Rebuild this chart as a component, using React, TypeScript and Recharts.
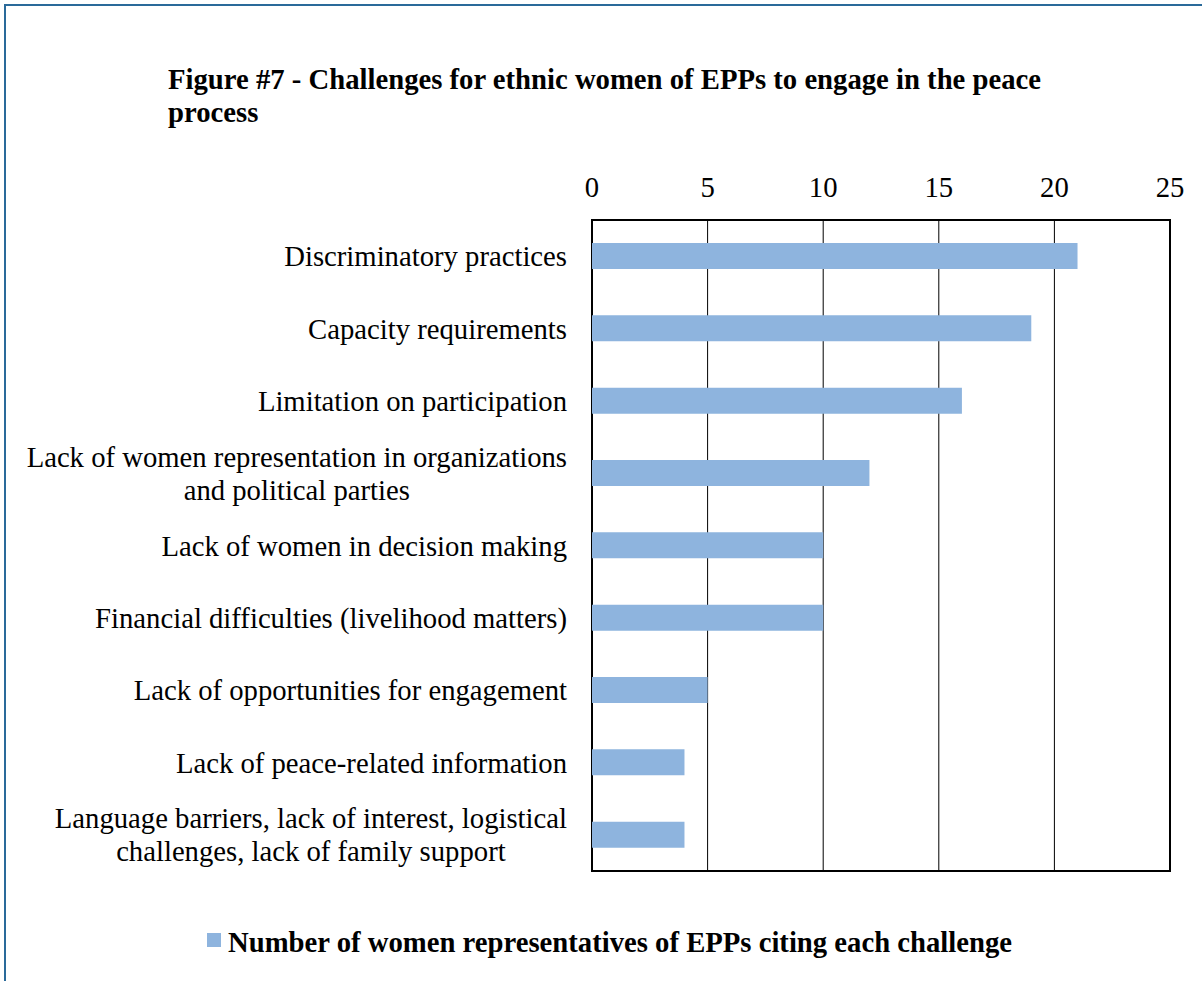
import React from 'react';
import { BarChart, Bar, XAxis, YAxis, CartesianGrid, ReferenceArea } from 'recharts';

const challenges = [
  'Discriminatory practices',
  'Capacity requirements',
  'Limitation on participation',
  'Lack of women representation in organizations\nand political parties',
  'Lack of women in decision making',
  'Financial difficulties (livelihood matters)',
  'Lack of opportunities for engagement',
  'Lack of peace-related information',
  'Language barriers, lack of interest, logistical\nchallenges, lack of family support',
];
const counts = [21, 19, 16, 12, 10, 10, 5, 4, 4];
const xTicks = [0, 5, 10, 15, 20, 25];

const titleLines = [
  'Figure #7 - Challenges for ethnic women of EPPs to engage in the peace',
  'process',
];
const seriesName = 'Number of women representatives of EPPs citing each challenge';

const data = challenges.map((c, i) => ({ challenge: c, count: counts[i] }));

const FONT = '"Liberation Serif", "Times New Roman", serif';
const FS = 28.7;
const BAR = '#8eb4de';
const FRAME = '#2a6a9a';

let ctx: CanvasRenderingContext2D | null = null;
function textWidth(s: string) {
  if (!ctx) ctx = document.createElement('canvas').getContext('2d');
  if (!ctx) return s.length * 12;
  ctx.font = `${FS}px ${FONT}`;
  return ctx.measureText(s).width;
}

const XTick = (props: any) => {
  const { x, y, payload } = props;
  return (
    <text x={x} y={y} textAnchor="middle" fontSize={FS} fontFamily={FONT} fill="#000">
      {payload.value}
    </text>
  );
};

const YTick = (props: any) => {
  const { x, y, payload } = props;
  const lines: string[] = String(payload.value).split('\n');
  const w = Math.max(...lines.map(textWidth));
  const cx = x - w / 2;
  const first = y + 10 - ((lines.length - 1) * 33) / 2;
  return (
    <g>
      {lines.map((l, i) => (
        <text
          key={i}
          x={lines.length > 1 ? cx : x}
          y={first + i * 33}
          textAnchor={lines.length > 1 ? 'middle' : 'end'}
          fontSize={FS}
          fontFamily={FONT}
          fill="#000"
        >
          {l}
        </text>
      ))}
    </g>
  );
};

export default function App() {
  return (
    <div style={{ position: 'absolute', left: 0, top: 0, width: 1202, height: 981, background: '#fff', overflow: 'hidden', fontFamily: FONT }}>
      <div style={{ position: 'absolute', left: 4, top: 4, width: 1300, height: 1100, borderTop: `2px solid ${FRAME}`, borderLeft: `2px solid ${FRAME}` }} />
      <div style={{ position: 'absolute', left: 168, top: 63, fontSize: FS, lineHeight: '33px', fontWeight: 'bold', color: '#000', whiteSpace: 'nowrap' }}>
        {titleLines.map((t, i) => (
          <div key={i}>{t}</div>
        ))}
      </div>
      <div style={{ position: 'absolute', left: 0, top: 0 }}>
        <BarChart
          width={1202}
          height={981}
          data={data}
          layout="vertical"
          margin={{ top: 180, right: 32, bottom: 110, left: 32 }}
          barCategoryGap={0}
        >
          <CartesianGrid horizontal={false} stroke="#000" strokeWidth={1} />
          <XAxis
            type="number"
            orientation="top"
            domain={[0, 25]}
            ticks={xTicks}
            height={40}
            axisLine={false}
            tickLine={false}
            tickSize={0}
            tickMargin={23}
            tick={<XTick />}
            interval={0}
          />
          <YAxis
            type="category"
            dataKey="challenge"
            width={560}
            axisLine={false}
            tickLine={false}
            tickSize={0}
            tickMargin={25}
            tick={<YTick />}
            interval={0}
          />
          <Bar dataKey="count" name={seriesName} fill={BAR} barSize={26} isAnimationActive={false} />
          <ReferenceArea x1={0} x2={25} fill="none" stroke="#000" strokeWidth={2} ifOverflow="visible" />
        </BarChart>
      </div>
      <div style={{ position: 'absolute', left: 207, top: 933, width: 14, height: 14, background: BAR }} />
      <div style={{ position: 'absolute', left: 228, top: 926, fontSize: FS, lineHeight: '33px', fontWeight: 'bold', color: '#000', whiteSpace: 'nowrap' }}>
        {seriesName}
      </div>
    </div>
  );
}
